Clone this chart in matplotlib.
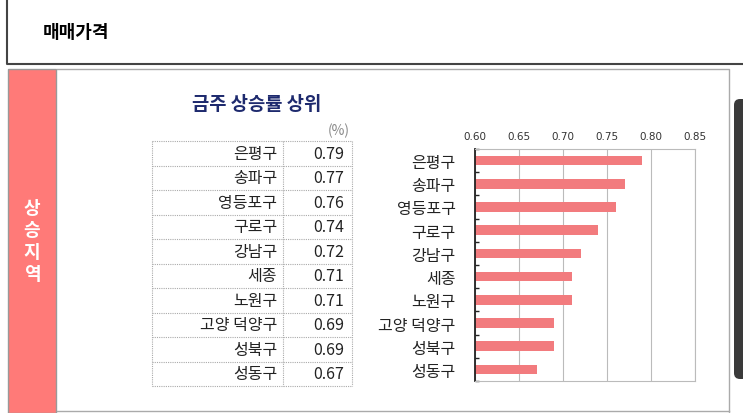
import matplotlib.pyplot as plt
from matplotlib.patches import Rectangle, FancyBboxPatch

plt.rcParams['font.family'] = ['Noto Sans CJK KR', 'DejaVu Sans']

# 데이터
regions = ['은평구', '송파구', '영등포구', '구로구', '강남구', '세종', '노원구', '고양 덕양구', '성북구', '성동구']
rates = [0.79, 0.77, 0.76, 0.74, 0.72, 0.71, 0.71, 0.69, 0.69, 0.67]
xticks = [0.60, 0.65, 0.70, 0.75, 0.80, 0.85]

W, H = 743, 414
fig = plt.figure(figsize=(W / 100, H / 100), dpi=100)

# 배경 장식용 축 (픽셀 좌표)
bg = fig.add_axes([0, 0, 1, 1])
bg.set_xlim(0, W)
bg.set_ylim(H, 0)
bg.axis('off')

# 상단 제목 상자
bg.plot([7, 7, W], [0, 65, 65], color='#444444', lw=1.5)
bg.text(43, 33, '매매가격', fontsize=13, fontweight='bold', va='center', ha='left')

# 왼쪽 빨간 띠
bg.add_patch(Rectangle((8, 70), 48, 344, facecolor='#FF7A78', edgecolor='#999999', lw=1))
bg.text(32, 242, '상\n승\n지\n역', color='white', fontsize=13, fontweight='bold',
        ha='center', va='center', linespacing=1.2)
bg.plot([57, 729, 729], [70, 70, 414], color='#AAAAAA', lw=1)
bg.plot([57, 729], [412, 412], color='#AAAAAA', lw=1)

# 오른쪽 어두운 막대
bg.add_patch(FancyBboxPatch((734, 100), 14, 280, boxstyle='round,pad=0,rounding_size=6',
                            facecolor='#3A3A3A', edgecolor='none'))

# 표 제목
bg.text(257, 105, '금주 상승률 상위', color='#1E2A6E', fontsize=13.5, fontweight='bold',
        ha='center', va='center')
bg.text(350, 131, '(%)', color='#888888', fontsize=10, ha='right', va='center')

# 표
top, rh = 142, 24.5
x0, xm, x1 = 152, 283, 352
n = len(regions)
for i in range(n + 1):
    y = top + i * rh
    bg.plot([x0, x1], [y, y], color='#AAAAAA', lw=0.8, ls=(0, (1, 1)))
for x in (x0, xm, x1):
    bg.plot([x, x], [top, top + n * rh], color='#AAAAAA', lw=0.8, ls=(0, (1, 1)))
for i, (name, val) in enumerate(zip(regions, rates)):
    yc = top + (i + 0.5) * rh
    bg.text(277, yc, name, fontsize=11.5, ha='right', va='center', color='#222222')
    bg.text(344, yc, f'{val:.2f}', fontsize=11.5, ha='right', va='center', color='#222222')

# 막대 그래프
ax = fig.add_axes([475 / W, 1 - 382 / H, 220 / W, 232 / H])
ypos = list(range(n))
ax.barh(ypos, rates, height=0.42, color='#F27B7E')
ax.set_xlim(0.60, 0.85)
ax.set_ylim(n - 0.5, -0.5)
ax.set_xticks(xticks)
ax.set_xticklabels([f'{t:.2f}' for t in xticks], fontsize=7.5, color='#333333',
                   family='DejaVu Sans')
ax.xaxis.tick_top()
ax.tick_params(axis='x', length=0, pad=6)
ax.set_yticks(ypos)
ax.set_yticklabels(regions, fontsize=11.5, color='#222222')
ax.tick_params(axis='y', length=0, pad=14)
ax.set_yticks([i + 0.5 for i in range(-1, n)], minor=True)
ax.tick_params(axis='y', which='minor', direction='in', length=3, width=1, color='#222222')
ax.grid(axis='x', color='#BBBBBB', lw=0.8)
ax.set_axisbelow(True)
for side in ('top', 'right', 'bottom'):
    ax.spines[side].set_color('#BBBBBB')
ax.spines['left'].set_color('#222222')
ax.spines['left'].set_linewidth(1.3)

fig.savefig('out.png', dpi=100)
